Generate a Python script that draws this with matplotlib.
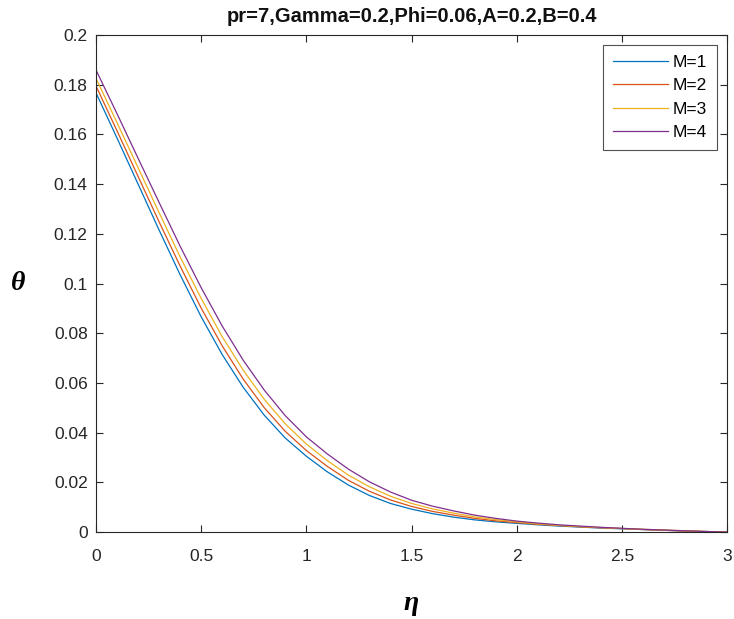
import matplotlib
matplotlib.use("Agg")
import matplotlib.pyplot as plt

eta = [0.0, 0.1, 0.2, 0.3, 0.4, 0.5, 0.6, 0.7, 0.8, 0.9,
       1.0, 1.1, 1.2, 1.3, 1.4, 1.5, 1.6, 1.7, 1.8, 1.9,
       2.0, 2.1, 2.2, 2.3, 2.4, 2.5, 2.6, 2.7, 2.8, 2.9, 3.0]

theta_M1 = [0.1767, 0.1585, 0.1400, 0.1215, 0.1035, 0.0866, 0.0714, 0.0582, 0.0470, 0.0378,
            0.0305, 0.0242, 0.0189, 0.0147, 0.0115, 0.0092, 0.0074, 0.0060, 0.0049, 0.0041,
            0.0035, 0.0029, 0.0024, 0.0020, 0.0016, 0.0013, 0.0010, 0.0007, 0.0004, 0.0002, 0.0]
theta_M2 = [0.1795, 0.1614, 0.1431, 0.1248, 0.1070, 0.0901, 0.0749, 0.0615, 0.0500, 0.0405,
            0.0328, 0.0264, 0.0208, 0.0164, 0.0129, 0.0103, 0.0083, 0.0068, 0.0055, 0.0045,
            0.0038, 0.0031, 0.0026, 0.0021, 0.0017, 0.0014, 0.0010, 0.0007, 0.0004, 0.0002, 0.0]
theta_M3 = [0.1825, 0.1647, 0.1466, 0.1285, 0.1107, 0.0940, 0.0786, 0.0651, 0.0534, 0.0435,
            0.0354, 0.0287, 0.0229, 0.0182, 0.0144, 0.0115, 0.0093, 0.0076, 0.0061, 0.0050,
            0.0041, 0.0033, 0.0027, 0.0022, 0.0018, 0.0014, 0.0011, 0.0008, 0.0005, 0.0002, 0.0]
theta_M4 = [0.1859, 0.1683, 0.1504, 0.1326, 0.1150, 0.0983, 0.0829, 0.0691, 0.0571, 0.0468,
            0.0383, 0.0314, 0.0253, 0.0202, 0.0161, 0.0128, 0.0104, 0.0085, 0.0068, 0.0055,
            0.0044, 0.0036, 0.0029, 0.0024, 0.0019, 0.0015, 0.0011, 0.0008, 0.0005, 0.0002, 0.0]

labels = ["M=1", "M=2", "M=3", "M=4"]
series = [theta_M1, theta_M2, theta_M3, theta_M4]
colors = ["#0072BD", "#D95319", "#EDB120", "#7E2F8E"]

xticks = [0, 0.5, 1, 1.5, 2, 2.5, 3]
xticklabels = ["0", "0.5", "1", "1.5", "2", "2.5", "3"]
yticks = [0, 0.02, 0.04, 0.06, 0.08, 0.1, 0.12, 0.14, 0.16, 0.18, 0.2]
yticklabels = ["0", "0.02", "0.04", "0.06", "0.08", "0.1", "0.12", "0.14", "0.16", "0.18", "0.2"]

title = "pr=7,Gamma=0.2,Phi=0.06,A=0.2,B=0.4"

plt.rcParams['font.family'] = ['Liberation Sans', 'DejaVu Sans']

fig = plt.figure(figsize=(7.34, 6.19), dpi=100)
ax = fig.add_axes([0.1308, 0.1405, 0.8597, 0.803])

for y, lab, c in zip(series, labels, colors):
    ax.plot(eta, y, color=c, lw=0.9, label=lab)

ax.set_xlim(0, 3)
ax.set_ylim(0, 0.2)
ax.set_xticks(xticks)
ax.set_xticklabels(xticklabels)
ax.set_yticks(yticks)
ax.set_yticklabels(yticklabels)
ax.tick_params(direction='in', length=5, width=0.8, top=True, right=True,
               labelsize=12.5, colors='#262626')
ax.tick_params(axis='y', pad=6)
ax.tick_params(axis='x', pad=12)
for s in ax.spines.values():
    s.set_color('#262626')
    s.set_linewidth(0.8)

ax.set_title(title, fontsize=14.5, fontweight='bold', color='#111111', pad=9)
ax.set_xlabel("η", fontsize=20, fontweight='bold', fontstyle='italic',
              family='Liberation Serif', labelpad=20)
ax.set_ylabel("θ", fontsize=20, fontweight='bold', fontstyle='italic',
              family='Liberation Serif', rotation=0, labelpad=26, va='center')

leg = ax.legend(loc='upper right', fontsize=12.5, frameon=True, fancybox=False,
                edgecolor='#262626', handlelength=3.2, borderpad=0.55,
                labelspacing=0.47, handletextpad=0.25, borderaxespad=0.6)
leg.get_frame().set_linewidth(0.8)

fig.savefig("out.png", dpi=100)
